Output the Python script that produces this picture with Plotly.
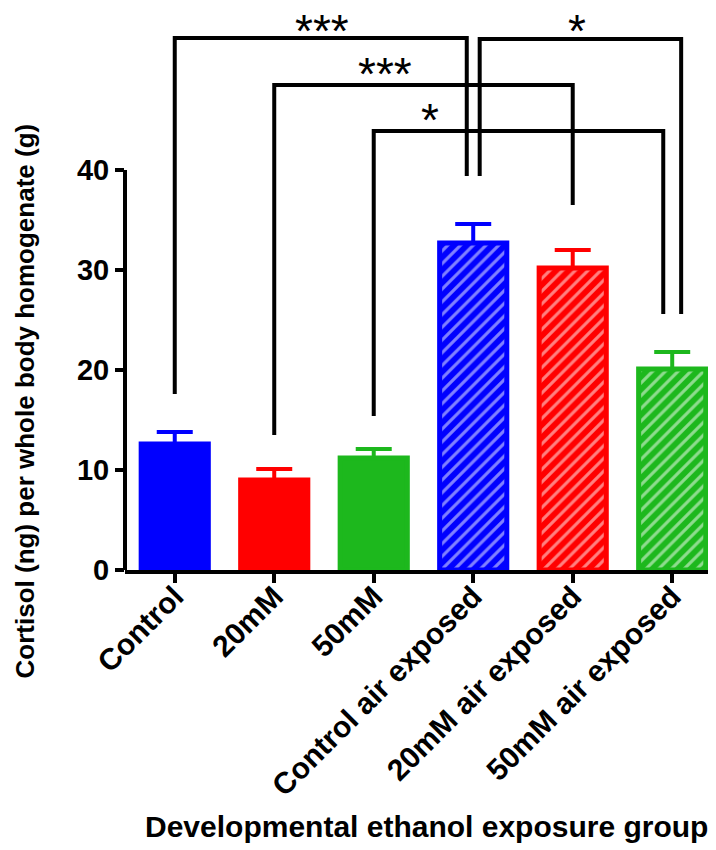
import plotly.graph_objects as go

groups = ["Control", "20mM", "50mM", "Control air exposed", "20mM air exposed", "50mM air exposed"]
means = [12.6, 9.0, 11.2, 32.7, 30.2, 20.1]
sems = [1.2, 1.1, 0.9, 1.9, 1.8, 1.7]
colors = ["#0000FF", "#FF0000", "#1DB81D", "#0000FF", "#FF0000", "#1DB81D"]
hatched = [False, False, False, True, True, True]

# significance brackets
br_left = [0, 1, 2, 3]
br_right = [3, 4, 5, 5]
br_height = [53.2, 48.5, 43.9, 53.1]
br_left_end = [17.6, 13.5, 15.4, 39.4]
br_right_end = [39.4, 36.5, 25.6, 25.6]
br_label = ["***", "***", "*", "*"]
br_label_x = [1.48, 2.11, 2.57, 4.04]
br_label_y = [55.0, 50.7, 46.1, 55.0]

y_ticks = [0, 10, 20, 30, 40]

FONT = "Liberation Sans, Arial, sans-serif"

fig = go.Figure()
for i, g in enumerate(groups):
    fig.add_trace(go.Bar(
        x=[i], y=[means[i]], width=0.675,
        marker=dict(
            color=colors[i],
            line=dict(color=colors[i], width=5),
            pattern=dict(shape="/" if hatched[i] else "", fgcolor="white",
                         size=9, solidity=0.35, fillmode="overlay"),
        ),
        error_y=dict(type="data", symmetric=False, array=[sems[i]], arrayminus=[0],
                     color=colors[i], thickness=4, width=18),
        showlegend=False, hoverinfo="skip",
    ))

# offsets so neighbouring bracket legs don't overlap
leg_offset = {(0, "r"): -0.065, (3, "l"): 0.065, (2, "r"): -0.09, (3, "r"): 0.09}
shapes = []
for k in range(len(br_left)):
    xl = br_left[k] + leg_offset.get((k, "l"), 0)
    xr = br_right[k] + leg_offset.get((k, "r"), 0)
    path = f"M {xl},{br_left_end[k]} L {xl},{br_height[k]} L {xr},{br_height[k]} L {xr},{br_right_end[k]}"
    shapes.append(dict(type="path", path=path, xref="x", yref="y",
                       line=dict(color="black", width=4)))
# y axis line only from 0 to 40
shapes.append(dict(type="line", xref="paper", yref="y", x0=0, x1=0, y0=-0.2, y1=y_ticks[-1],
                   line=dict(color="black", width=4)))

annotations = []
for k in range(len(br_label)):
    annotations.append(dict(x=br_label_x[k], y=br_label_y[k], xref="x", yref="y",
                            text=br_label[k], showarrow=False, xanchor="center",
                            yanchor="middle", yshift=-11,
                            font=dict(family=FONT, size=46, color="black")))
annotations.append(dict(x=0.512, y=-0.457, xref="paper", yref="paper",
                        xanchor="center", yanchor="middle",
                        text="<b>Developmental ethanol exposure group</b>", showarrow=False,
                        font=dict(family=FONT, size=30, color="black")))
annotations.append(dict(x=-0.17, y=0.30, xref="paper", yref="paper", textangle=-90,
                        xanchor="center", yanchor="middle",
                        text="<b>Cortisol (ng) per whole body homogenate (g)</b>", showarrow=False,
                        font=dict(family=FONT, size=26, color="black")))

fig.update_layout(
    width=716, height=850,
    margin=dict(l=117, r=11, t=0, b=288),
    plot_bgcolor="white", paper_bgcolor="white",
    barmode="overlay",
    shapes=shapes, annotations=annotations,
    xaxis=dict(range=[-0.5, 5.41], tickvals=list(range(len(groups))),
               ticktext=[f"<b>{g}</b>" for g in groups], tickangle=-45,
               showline=True, linecolor="black", linewidth=4,
               ticks="outside", ticklen=9, tickwidth=4, tickcolor="black",
               ticklabelstandoff=-16,
               showgrid=False, zeroline=False,
               tickfont=dict(family=FONT, size=30, color="black")),
    yaxis=dict(range=[0, 56.2], tickvals=y_ticks, ticktext=[f"<b>{v}</b>" for v in y_ticks],
               showline=False, ticks="outside", ticklen=9, tickwidth=4, tickcolor="black",
               showgrid=False, zeroline=False,
               tickfont=dict(family=FONT, size=29, color="black")),
)

fig.write_html("out.html")
